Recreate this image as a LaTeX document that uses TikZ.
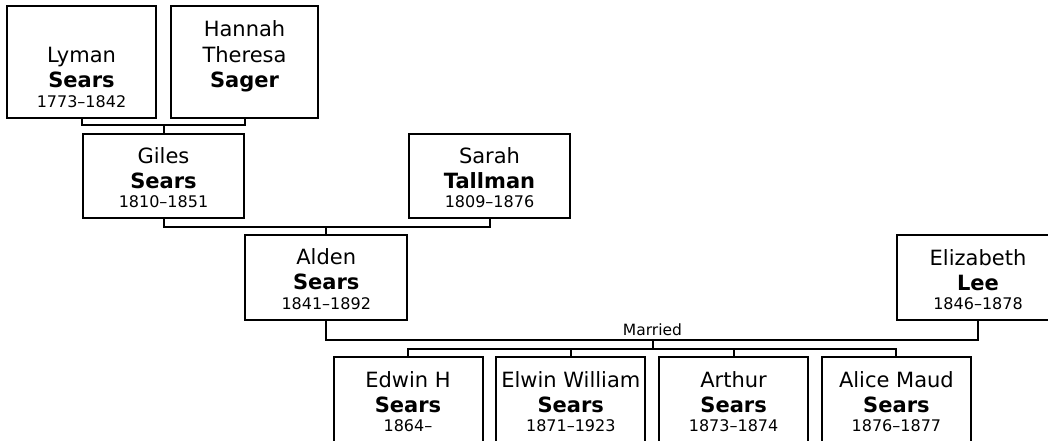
\documentclass[tikz,border=0pt]{standalone}
\usepackage{fontspec}
\setmainfont{DejaVu Sans}
\begin{document}
\begin{tikzpicture}[x=1pt,y=-1pt,
  pbox/.style={draw=black, line width=2pt, inner sep=0pt, outer sep=0pt},
  narrowbox/.style={pbox, minimum width=149pt, minimum height=85pt},
  widebox/.style={pbox, minimum width=162pt, minimum height=85pt},
  nm/.style={anchor=base, inner sep=0pt, text=black, font=\fontsize{21}{24}\selectfont},
  sn/.style={anchor=base, inner sep=0pt, text=black, font=\fontsize{21}{24}\selectfont\bfseries},
  yr/.style={anchor=base, inner sep=0pt, text=black, font=\fontsize{16}{19}\selectfont},
  lbl/.style={anchor=base, inner sep=0pt, text=black, font=\fontsize{15.5}{18}\selectfont},
  link/.style={draw=black, line width=2pt}]
\useasboundingbox (0,0) rectangle (1048,441);
\clip (0,0) rectangle (1048,441);

% ---- boxes ----
\node[pbox, minimum width=149pt, minimum height=112pt] (lyman) at (81.5,62) {};
\node[pbox, minimum width=147pt, minimum height=112pt] (hannah) at (244.5,62) {};
\node[pbox, minimum width=161pt, minimum height=84pt] (giles) at (163.5,176) {};
\node[pbox, minimum width=161pt, minimum height=84pt] (sarah) at (489.5,176) {};
\node[widebox] (alden) at (326.25,277.5) {};
\node[widebox] (elizabeth) at (978,277.5) {};
\node[narrowbox] (edwin) at (408,399.5) {};
\node[narrowbox] (elwin) at (570.8,399.5) {};
\node[narrowbox] (arthur) at (733.6,399.5) {};
\node[narrowbox] (alice) at (896.4,399.5) {};

% ---- texts ----
\node[nm] (lyman1) at (81.5,63) {Lyman};
\node[sn] (lyman2) at (81.5,88) {Sears};
\node[yr] (lyman3) at (81.5,107.5) {1773–1842};

\node[nm] (hannah1) at (244.5,37) {Hannah};
\node[nm] (hannah2) at (244.5,63) {Theresa};
\node[sn] (hannah3) at (244.5,88) {Sager};

\node[nm] (giles1) at (163.5,163) {Giles};
\node[sn] (giles2) at (163.5,188) {Sears};
\node[yr] (giles3) at (163.5,207.5) {1810–1851};

\node[nm] (sarah1) at (489.5,163) {Sarah};
\node[sn] (sarah2) at (489.5,188) {Tallman};
\node[yr] (sarah3) at (489.5,207.5) {1809–1876};

\node[nm] (alden1) at (326.25,264.5) {Alden};
\node[sn] (alden2) at (326.25,289.5) {Sears};
\node[yr] (alden3) at (326.25,309) {1841–1892};

\node[nm] (eliz1) at (978,265) {Elizabeth};
\node[sn] (eliz2) at (978,290) {Lee};
\node[yr] (eliz3) at (978,309.5) {1846–1878};

\node[nm] (edwin1) at (408,387) {Edwin H};
\node[sn] (edwin2) at (408,412) {Sears};
\node[yr] (edwin3) at (408,431.5) {1864–};

\node[nm] (elwin1) at (570.8,387) {Elwin William};
\node[sn] (elwin2) at (570.8,412) {Sears};
\node[yr] (elwin3) at (570.8,431.5) {1871–1923};

\node[nm] (arthur1) at (733.6,387) {Arthur};
\node[sn] (arthur2) at (733.6,412) {Sears};
\node[yr] (arthur3) at (733.6,431.5) {1873–1874};

\node[nm] (alice1) at (896.4,387) {Alice Maud};
\node[sn] (alice2) at (896.4,412) {Sears};
\node[yr] (alice3) at (896.4,431.5) {1876–1877};

% ---- connectors ----
\coordinate (j1) at (163.5,125);
\draw[link] (lyman.south) |- (j1) -| (hannah.south);
\draw[link] (j1) -- (giles.north);

\coordinate (j2) at (326.25,226.7);
\draw[link] (giles.south) |- (j2) -| (sarah.south);
\draw[link] (j2) -- (alden.north);

\coordinate (j3) at (652.5,340.3);
\draw[link] (alden.south) |- (j3) -| (elizabeth.south);
\node[lbl] (married) at (652.5,335.7) {Married};

\coordinate (j4) at (652.5,348.5);
\draw[link] (j3) -- (j4);
\draw[link] (edwin.north) |- (j4) -| (alice.north);
\coordinate (j5) at (570.8,348.5);
\coordinate (j6) at (733.6,348.5);
\draw[link] (j5) -- (elwin.north);
\draw[link] (j6) -- (arthur.north);
\end{tikzpicture}
\end{document}
